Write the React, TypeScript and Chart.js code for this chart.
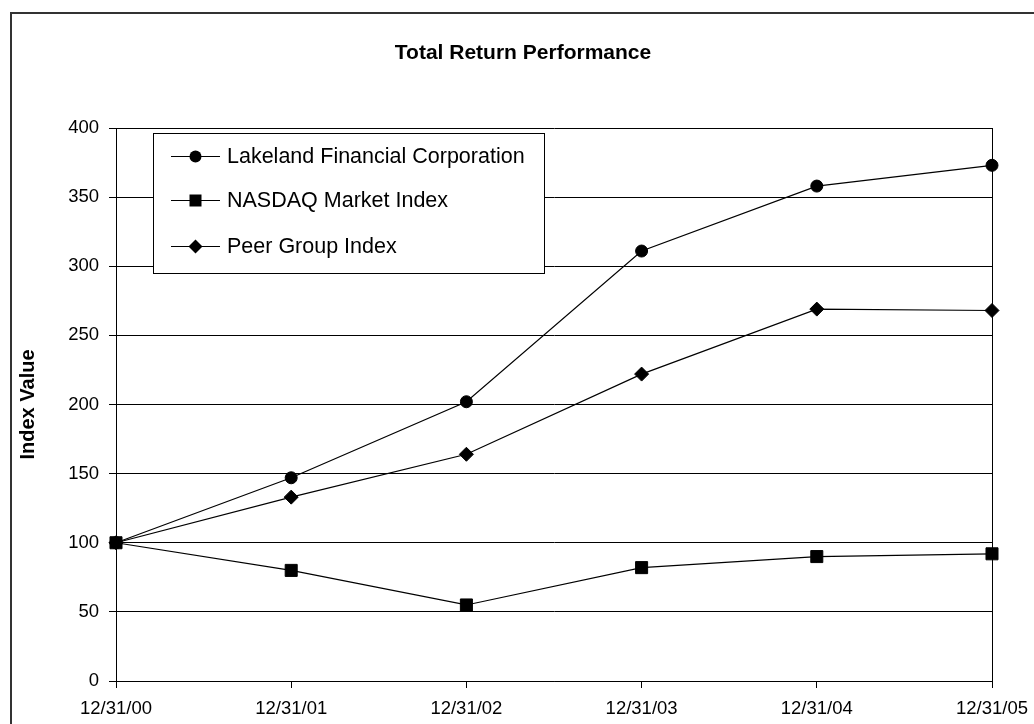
import { useEffect, useRef } from "react";
import { Chart, registerables } from "chart.js";

Chart.register(...registerables);

const categories = ["12/31/00", "12/31/01", "12/31/02", "12/31/03", "12/31/04", "12/31/05"];
const lakeland = [100, 147, 202, 311, 358, 373];
const nasdaq = [100, 80, 55, 82, 90, 92];
const peer = [100, 133, 164, 222, 269, 268];
const seriesNames = ["Lakeland Financial Corporation", "NASDAQ Market Index", "Peer Group Index"];
const seriesMarkers = ["circle", "rect", "rectRot"];
const yMin = 0;
const yMax = 400;
const yStep = 50;
const chartTitle = "Total Return Performance";
const yAxisTitle = "Index Value";

const FONT = "'Liberation Sans', Arial, sans-serif";

function drawMarker(ctx: CanvasRenderingContext2D, style: string, x: number, y: number) {
  ctx.beginPath();
  if (style === "circle") {
    ctx.arc(x, y, 6, 0, Math.PI * 2);
  } else if (style === "rect") {
    ctx.rect(x - 6, y - 6, 12, 12);
  } else {
    ctx.moveTo(x, y - 7);
    ctx.lineTo(x + 7, y);
    ctx.lineTo(x, y + 7);
    ctx.lineTo(x - 7, y);
    ctx.closePath();
  }
  ctx.fill();
}

const framePlugin = {
  id: "frame",
  beforeDraw(chart: any) {
    const ctx: CanvasRenderingContext2D = chart.ctx;
    ctx.save();
    ctx.fillStyle = "#fff";
    ctx.fillRect(0, 0, chart.width, chart.height);
    ctx.strokeStyle = "#333";
    ctx.lineWidth = 2;
    ctx.beginPath();
    ctx.moveTo(11, chart.height + 5);
    ctx.lineTo(11, 13);
    ctx.lineTo(chart.width + 5, 13);
    ctx.stroke();
    ctx.fillStyle = "#000";
    ctx.font = `bold 21px ${FONT}`;
    ctx.textAlign = "center";
    ctx.textBaseline = "middle";
    ctx.fillText(chartTitle, 523, 53);
    ctx.restore();
  },
  afterDraw(chart: any) {
    const ctx: CanvasRenderingContext2D = chart.ctx;
    const { top, bottom, right } = chart.chartArea;
    ctx.save();
    ctx.strokeStyle = "#000";
    ctx.lineWidth = 1;
    ctx.beginPath();
    ctx.moveTo(Math.round(right) + 0.5, top);
    ctx.lineTo(Math.round(right) + 0.5, bottom + 7);
    ctx.stroke();

    // legend
    const bx = 153, by = 133, bw = 391, bh = 140;
    ctx.fillStyle = "#fff";
    ctx.fillRect(bx, by, bw, bh);
    ctx.strokeStyle = "#000";
    ctx.strokeRect(bx + 0.5, by + 0.5, bw, bh);
    const rows = [156, 200, 246];
    chart.data.datasets.forEach((ds: any, i: number) => {
      const y = rows[i];
      ctx.beginPath();
      ctx.moveTo(171, y + 0.5);
      ctx.lineTo(220, y + 0.5);
      ctx.stroke();
      ctx.fillStyle = "#000";
      drawMarker(ctx, seriesMarkers[i], 195.5, y + 0.5);
      ctx.font = `21.5px ${FONT}`;
      ctx.textAlign = "left";
      ctx.textBaseline = "middle";
      ctx.fillText(ds.label, 227, y + 1);
    });
    ctx.restore();
  },
};

export default function App() {
  const ref = useRef<HTMLCanvasElement>(null);
  useEffect(() => {
    if (!ref.current) return;
    const mk = (label: string, data: number[], style: string, radius: number) => ({
      label,
      data,
      borderColor: "#000",
      backgroundColor: "#000",
      borderWidth: 1.2,
      pointStyle: style,
      pointRadius: radius,
      pointBorderWidth: 1,
      pointBackgroundColor: "#000",
      pointBorderColor: "#000",
      tension: 0,
      fill: false,
    });
    const chart = new Chart(ref.current, {
      type: "line",
      data: {
        labels: categories,
        datasets: [
          mk(seriesNames[0], lakeland, seriesMarkers[0], 6),
          mk(seriesNames[1], nasdaq, seriesMarkers[1], 8.5),
          mk(seriesNames[2], peer, seriesMarkers[2], 7),
        ],
      },
      options: {
        responsive: false,
        animation: false,
        layout: { padding: { left: 0, top: 128, right: 42, bottom: 0 } },
        plugins: {
          legend: { display: false },
          title: { display: false },
          tooltip: { enabled: false },
        },
        scales: {
          x: {
            type: "category",
            offset: false,
            afterFit: (s: any) => {
              s.height = 43;
              s.paddingLeft = 0;
              s.paddingRight = 0;
            },
            grid: {
              drawOnChartArea: false,
              color: "#000",
              tickLength: 7,
              lineWidth: 1,
            },
            border: { display: true, color: "#000", width: 1 },
            ticks: {
              color: "#000",
              font: { family: FONT, size: 18.5 },
              padding: 10,
              maxRotation: 0,
              autoSkip: false,
            },
          },
          y: {
            min: yMin,
            max: yMax,
            afterFit: (s: any) => {
              s.width = 116;
              s.paddingTop = 0;
              s.paddingBottom = 0;
            },
            grid: { color: "#000", tickLength: 7, lineWidth: 1 },
            border: { display: true, color: "#000", width: 1 },
            ticks: {
              stepSize: yStep,
              color: "#000",
              font: { family: FONT, size: 18.5 },
              padding: 10,
            },
            title: {
              display: true,
              text: yAxisTitle,
              color: "#000",
              font: { family: FONT, size: 20, weight: "bold" },
              padding: { top: 16, bottom: 0 },
            },
          },
        },
      },
      plugins: [framePlugin],
    });
    return () => chart.destroy();
  }, []);
  return (
    <div style={{ position: "fixed", left: 0, top: 0, width: 1034, height: 724, background: "#fff" }}>
      <canvas ref={ref} width={1034} height={724} style={{ display: "block" }} />
    </div>
  );
}
